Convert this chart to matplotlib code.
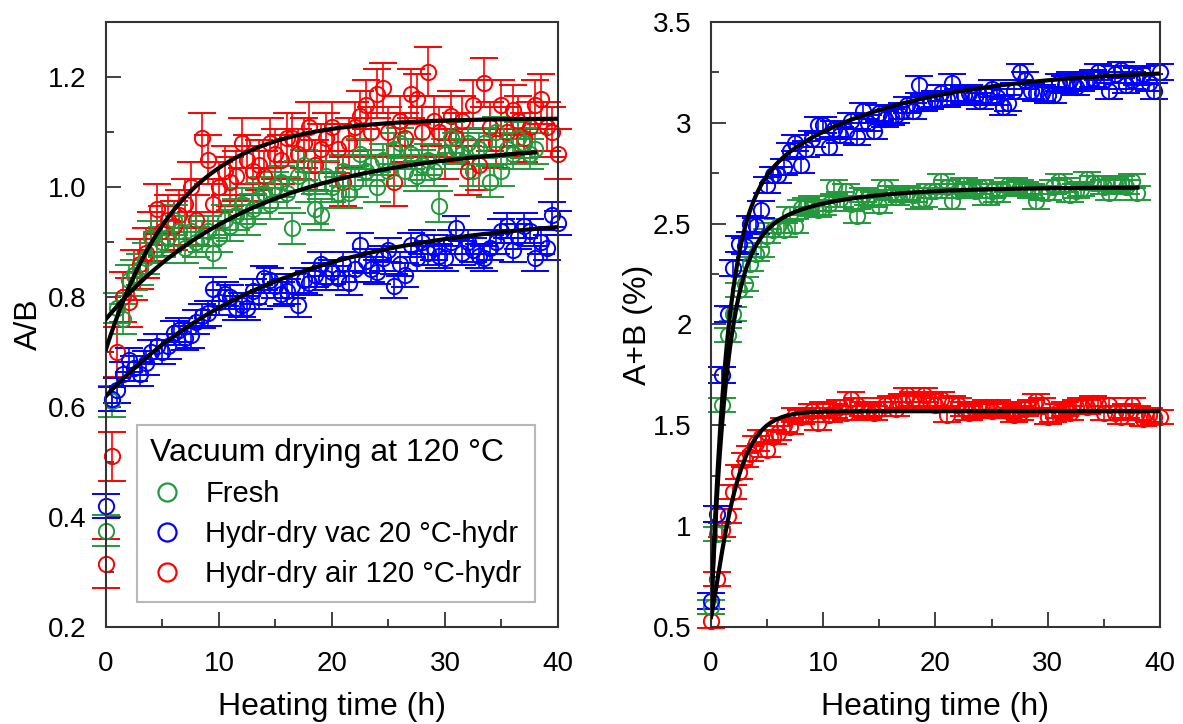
import matplotlib.pyplot as plt
from matplotlib.lines import Line2D
from matplotlib.ticker import MultipleLocator
import numpy as np

plt.rcParams['font.family'] = ['Liberation Sans', 'DejaVu Sans']

STEP = 0.5  # h between two measurements

# ---- A/B (left panel), one value every 0.5 h starting at t = 0
ab_fresh = [0.375, 0.61, 0.78, 0.76, 0.83, 0.84, 0.85, 0.87, 0.91, 0.89,
            0.90, 0.91, 0.94, 0.92, 0.89, 0.92, 0.90, 0.91, 0.92, 0.88,
            0.91, 0.94, 0.93, 0.95, 0.97, 0.94, 0.96, 0.98, 0.99, 0.97,
            1.00, 1.01, 0.99, 0.925, 1.02, 1.04, 1.00, 0.96, 0.95, 1.02,
            1.00, 0.99, 1.03, 0.99, 1.01, 1.06, 1.03, 1.04, 1.00, 1.05,
            1.03, 1.07, 1.08, 1.03, 1.06, 1.02, 1.04, 1.05, 1.03, 0.965,
            1.06, 1.09, 1.07, 1.06, 1.08, 1.03, 1.07, 1.08, 1.01, 1.10,
            1.03, 1.07, 1.06, 1.09, 1.08, 1.06, 1.07]
ab_vac = [0.42, 0.615, 0.63, 0.66, 0.685, 0.67, 0.66, 0.68, 0.70, 0.71,
          0.70, 0.71, 0.735, 0.74, 0.725, 0.73, 0.755, 0.765, 0.77, 0.815,
          0.79, 0.805, 0.80, 0.78, 0.785, 0.78, 0.81, 0.80, 0.835, 0.83,
          0.82, 0.805, 0.81, 0.82, 0.785, 0.83, 0.825, 0.84, 0.86, 0.835,
          0.845, 0.835, 0.86, 0.825, 0.85, 0.895, 0.865, 0.85, 0.845, 0.87,
          0.885, 0.82, 0.86, 0.84, 0.895, 0.87, 0.90, 0.88, 0.89, 0.875,
          0.87, 0.90, 0.925, 0.88, 0.90, 0.885, 0.875, 0.87, 0.89, 0.90,
          0.92, 0.93, 0.885, 0.91, 0.93, 0.92, 0.87, 0.90, 0.89, 0.95,
          0.935]
ab_air = [0.315, 0.51, 0.70, 0.80, 0.79, 0.84, 0.86, 0.88, 0.91, 0.96,
          0.92, 0.94, 0.93, 0.95, 0.97, 1.00, 0.94, 1.09, 1.05, 0.97,
          1.00, 1.03, 1.01, 1.02, 1.08, 1.05, 1.03, 1.04, 1.02, 1.08,
          1.06, 1.05, 1.09, 1.09, 1.06, 1.08, 1.11, 1.04, 1.07, 1.09,
          1.11, 1.07, 1.01, 1.08, 1.11, 1.13, 1.15, 1.10, 1.17, 1.18,
          1.10, 1.01, 1.12, 1.09, 1.17, 1.16, 1.10, 1.21, 1.12, 1.10,
          1.06, 1.13, 1.09, 1.12, 1.03, 1.15, 1.04, 1.19, 1.11, 1.08,
          1.15, 1.10, 1.14, 1.12, 1.09, 1.11, 1.15, 1.16, 1.11, 1.10,
          1.06]

# ---- A+B in % (right panel)
sum_fresh = [0.60, 0.96, 1.60, 1.95, 2.05, 2.17, 2.20, 2.30, 2.35, 2.37,
             2.44, 2.47, 2.49, 2.47, 2.55, 2.49, 2.58, 2.59, 2.60, 2.57,
             2.58, 2.60, 2.68, 2.62, 2.66, 2.60, 2.54, 2.64, 2.63, 2.62,
             2.59, 2.68, 2.65, 2.63, 2.64, 2.65, 2.64, 2.61, 2.62, 2.66,
             2.66, 2.71, 2.68, 2.61, 2.66, 2.69, 2.67, 2.66, 2.68, 2.63,
             2.66, 2.64, 2.67, 2.69, 2.69, 2.68, 2.67, 2.66, 2.61, 2.65,
             2.65, 2.68, 2.71, 2.69, 2.64, 2.66, 2.67, 2.72, 2.70, 2.70,
             2.68, 2.65, 2.69, 2.70, 2.68, 2.71, 2.65]
sum_vac = [0.63, 1.06, 1.75, 2.05, 2.28, 2.40, 2.39, 2.50, 2.49, 2.57,
           2.69, 2.74, 2.74, 2.78, 2.86, 2.90, 2.79, 2.87, 2.92, 2.99,
           2.99, 2.88, 2.97, 2.94, 2.96, 3.01, 2.93, 3.06, 3.00, 2.96,
           3.05, 3.02, 3.03, 3.04, 3.06, 3.09, 3.06, 3.19, 3.10, 3.11,
           3.12, 3.15, 3.12, 3.20, 3.13, 3.14, 3.15, 3.13, 3.11, 3.14,
           3.17, 3.13, 3.08, 3.10, 3.16, 3.25, 3.21, 3.16, 3.15, 3.15,
           3.14, 3.14, 3.20, 3.19, 3.21, 3.18, 3.20, 3.21, 3.22, 3.25,
           3.21, 3.16, 3.24, 3.26, 3.19, 3.21, 3.23, 3.24, 3.20, 3.16,
           3.25]
sum_air = [0.53, 0.74, 0.98, 1.05, 1.17, 1.27, 1.33, 1.36, 1.41, 1.44,
           1.38, 1.44, 1.46, 1.50, 1.49, 1.55, 1.54, 1.55, 1.57, 1.51,
           1.58, 1.55, 1.57, 1.59, 1.56, 1.63, 1.60, 1.58, 1.57, 1.56,
           1.58, 1.60, 1.61, 1.58, 1.62, 1.65, 1.63, 1.61, 1.65, 1.62,
           1.60, 1.63, 1.55, 1.61, 1.60, 1.58, 1.56, 1.57, 1.58, 1.59,
           1.57, 1.59, 1.58, 1.57, 1.55, 1.56, 1.58, 1.59, 1.62, 1.60,
           1.54, 1.55, 1.57, 1.58, 1.56, 1.59, 1.60, 1.59, 1.61, 1.60,
           1.56, 1.60, 1.56, 1.54, 1.57, 1.60, 1.56, 1.53, 1.55, 1.54,
           1.54]

# error bar half-widths
ab_err = [0.028, 0.022, 0.045]   # fresh, vac, air
sum_err = [0.035, 0.04, 0.035]

# fit parameters
ab_fit_fresh = [0.76, 0.32, 13.0]       # y0, a, tau
ab_fit_vac = [0.62, 0.33, 15.0]
ab_fit_air = [0.705, 0.42, 6.5]
sum_fit_fresh = [0.55, 1.8, 1.4, 0.33, 7.0]   # y0, a1, tau1, a2, tau2
sum_fit_vac = [0.55, 2.0, 1.4, 0.72, 12.0]
sum_fit_air = [0.55, 1.02, 2.2, 1.2]           # y0, a, tau, n
fit_end = [38, 40, 40]

labels = ['Fresh', 'Hydr-dry vac 20 °C-hydr', 'Hydr-dry air 120 °C-hydr']
colors = ['#22993c', '#0000ff', '#ff0000']


def one_exp(t, y0, a, tau):
    return y0 + a * (1 - np.exp(-t / tau))


def two_exp(t, y0, a1, t1, a2, t2):
    return y0 + a1 * (1 - np.exp(-t / t1)) + a2 * (1 - np.exp(-t / t2))


def avrami(t, y0, a, tau, n):
    return y0 + a * (1 - np.exp(-(t / tau) ** n))


def draw_points(ax, values, err, color):
    t = np.arange(len(values)) * STEP
    eb = ax.errorbar(t, values, yerr=err, fmt='o', mfc='none', mec=color,
                     ecolor=color, ms=11, mew=1.4, elinewidth=1.2,
                     capsize=10, capthick=1.2, zorder=2)
    for art in eb.get_children():
        art.set_clip_on(False)


def style(ax, ylo, yhi, major, minor):
    ax.set_xlim(0, 40)
    ax.set_ylim(ylo, yhi)
    ax.xaxis.set_major_locator(MultipleLocator(10))
    ax.xaxis.set_minor_locator(MultipleLocator(5))
    ax.yaxis.set_major_locator(MultipleLocator(major))
    ax.yaxis.set_minor_locator(MultipleLocator(minor))
    ax.tick_params(which='both', direction='in', top=False, right=False,
                   width=1.3, color='#333333', labelsize=20)
    ax.tick_params(which='major', length=11)
    ax.tick_params(which='minor', length=6)
    ax.tick_params(axis='x', pad=17)
    ax.tick_params(axis='y', pad=14)
    for s in ax.spines.values():
        s.set_linewidth(1.5)
        s.set_color('#333333')
    ax.set_xlabel('Heating time (h)', fontsize=23, labelpad=11)


fig = plt.figure(figsize=(11.83, 7.24), dpi=100)
ax1 = fig.add_axes([0.0896, 0.134, 0.382, 0.8356])
ax2 = fig.add_axes([0.601, 0.134, 0.3795, 0.8356])

# left panel
for vals, e, c in [(ab_air, ab_err[2], colors[2]),
                   (ab_fresh, ab_err[0], colors[0]),
                   (ab_vac, ab_err[1], colors[1])]:
    draw_points(ax1, vals, e, c)
for p, end in [(ab_fit_fresh, fit_end[0]), (ab_fit_vac, fit_end[1]),
               (ab_fit_air, fit_end[2])]:
    tt = np.linspace(0, end, 300)
    ax1.plot(tt, one_exp(tt, *p), color='black', lw=3, zorder=3)
style(ax1, 0.2, 1.3, 0.2, 0.1)
ax1.set_ylabel('A/B', fontsize=23, labelpad=3)

handles = [Line2D([], [], ls='none', marker='o', ms=13, mfc='none',
                  mec=c, mew=1.6) for c in colors]
leg = ax1.legend(handles, labels, title='Vacuum drying at 120 °C',
                 loc='lower left', bbox_to_anchor=(0.068, 0.042),
                 borderaxespad=0, fontsize=21, title_fontsize=23,
                 alignment='left', fancybox=False, framealpha=1,
                 edgecolor='#b8b8b8', handlelength=1.2, handletextpad=0.7,
                 labelspacing=0.42, borderpad=0.45)
leg.get_frame().set_linewidth(1.5)
leg.set_zorder(5)

# right panel
for vals, e, c in [(sum_air, sum_err[2], colors[2]),
                   (sum_fresh, sum_err[0], colors[0]),
                   (sum_vac, sum_err[1], colors[1])]:
    draw_points(ax2, vals, e, c)
tt = np.linspace(0, fit_end[0], 400)
ax2.plot(tt, two_exp(tt, *sum_fit_fresh), color='black', lw=3, zorder=3)
tt = np.linspace(0, fit_end[1], 400)
ax2.plot(tt, two_exp(tt, *sum_fit_vac), color='black', lw=3, zorder=3)
tt = np.linspace(0, fit_end[2], 400)
ax2.plot(tt, avrami(tt, *sum_fit_air), color='black', lw=3, zorder=3)
style(ax2, 0.5, 3.5, 0.5, 0.25)
ax2.set_yticks([0.5, 1, 1.5, 2, 2.5, 3, 3.5])
ax2.set_yticklabels(['0.5', '1', '1.5', '2', '2.5', '3', '3.5'])
ax2.set_ylabel('A+B (%)', fontsize=23, labelpad=0)

fig.savefig('out.png', dpi=100)
